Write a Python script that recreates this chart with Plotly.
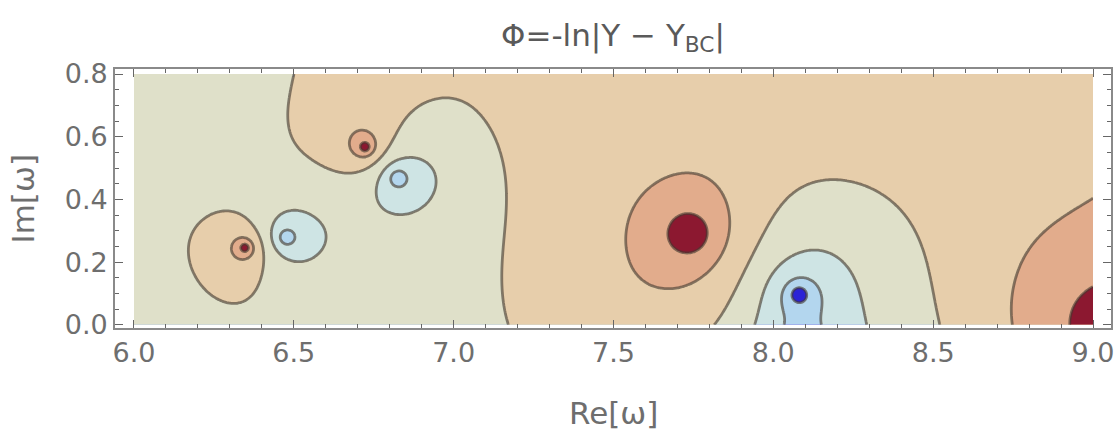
import numpy as np
import plotly.graph_objects as go

# ================= values =================
# zeros of Y - Y_BC  (Phi -> +inf, dark red cores)
zero_re = [6.347, 6.723, 7.738, 9.05]
zero_im = [0.246, 0.567, 0.290, 0.0]
zero_mirror = [0, 0, 0, 0]
zero_core = [0.003, 0.003, 0.0, 0.0]      # finite sampling depth of the peak
# poles of Y - Y_BC  (Phi -> -inf, blue cores)
pole_re = [6.476, 6.825, 8.080]
pole_im = [0.279, 0.469, 0.097]
pole_mirror = [0, 0, 1]
pole_core = [0.012, 0.013, 0.0]

# contour levels and band colours (lowest band first)
levels = [-3, -2, -1, 0, 1, 2]
band_colors = ["#2B22D6", "#B3D6EE", "#CEE4E4", "#DFE0C9",
               "#E7CEAB", "#E2AC8C", "#8C1830"]

# points lying on the drawn contour lines: Re, Im, level
line_re = [6.504, 6.488, 6.520, 6.582, 6.676, 6.790, 6.895, 6.973, 7.103, 7.166, 7.163, 7.160, 7.158, 7.155,
           6.175, 6.420, 6.290, 6.295, 6.373, 6.206, 6.190, 6.384,
           6.318, 6.386, 6.352, 6.352,
           6.425, 6.582, 6.503, 6.503,
           6.448, 6.504, 6.476, 6.476,
           6.757, 6.915, 6.836, 6.836,
           6.795, 6.855, 6.825, 6.825,
           6.679, 6.767, 6.723, 6.723,
           7.676, 7.800, 7.738, 7.738,
           7.536, 7.864, 7.700, 7.700,
           8.060, 8.100, 8.080, 8.080,
           8.083, 8.015, 8.155,
           8.100, 7.939, 8.305,
           7.833, 7.891, 7.987, 8.107, 8.217, 8.348, 8.459, 8.507,
           8.920, 9.000,
           8.750, 9.000, 8.793]
line_im = [0.800, 0.632, 0.558, 0.505, 0.485, 0.579, 0.696, 0.733, 0.632, 0.420, 0.300, 0.200, 0.100, 0.016,
           0.229, 0.207, 0.372, 0.037, 0.101, 0.112, 0.313, 0.324,
           0.241, 0.241, 0.275, 0.207,
           0.283, 0.283, 0.356, 0.209,
           0.279, 0.279, 0.307, 0.251,
           0.442, 0.442, 0.528, 0.356,
           0.469, 0.469, 0.499, 0.439,
           0.567, 0.567, 0.611, 0.523,
           0.290, 0.290, 0.352, 0.228,
           0.300, 0.300, 0.484, 0.122,
           0.097, 0.097, 0.117, 0.077,
           0.163, 0.000, 0.000,
           0.237, 0.000, 0.000,
           0.000, 0.154, 0.335, 0.441, 0.462, 0.420, 0.250, 0.037,
           0.000, 0.110,
           0.000, 0.400, 0.207]
line_lev = [0] * 14 + [0] * 8 + [1] * 4 + [-1] * 4 + [-2] * 4 + [-1] * 4 + [-2] * 4 + \
           [1] * 4 + [2] * 4 + [1] * 4 + [-3] * 4 + [-2] * 3 + [-1] * 3 + [0] * 8 + \
           [2] * 2 + [1] * 3

# points inside plain bands: Re, Im
olive_re = [6.05, 6.05, 6.05, 6.20, 6.30, 6.40, 6.45, 6.62, 6.65, 6.60, 6.75, 6.90,
            6.95, 7.00, 7.02, 7.05, 7.03, 6.95, 6.42, 6.15, 6.30, 6.40, 6.46, 6.22]
olive_im = [0.05, 0.40, 0.75, 0.55, 0.70, 0.50, 0.05, 0.36, 0.08, 0.20, 0.30, 0.20,
            0.05, 0.30, 0.50, 0.08, 0.62, 0.42, 0.60, 0.02, 0.00, 0.02, 0.12, 0.03]
tan_re = [7.30, 7.30, 7.40, 7.45, 7.25, 7.10, 6.62, 6.75, 6.85, 6.58, 6.70, 8.00,
          8.70, 8.62, 7.95, 7.60, 8.95, 8.62, 7.45, 8.35]
tan_im = [0.05, 0.30, 0.55, 0.78, 0.70, 0.78, 0.75, 0.76, 0.74, 0.65, 0.66, 0.72,
          0.72, 0.35, 0.55, 0.02, 0.65, 0.10, 0.45, 0.55]
salmon_re = [7.62, 8.90, 8.93]
salmon_im = [0.20, 0.20, 0.30]
cyan_re = [8.10, 7.98, 8.20]
cyan_im = [0.20, 0.05, 0.10]
lightblue_re = [8.08]
lightblue_im = [0.03]
band_re = olive_re + tan_re + salmon_re + cyan_re + lightblue_re
band_im = olive_im + tan_im + salmon_im + cyan_im + lightblue_im
band_val = ([-0.5] * len(olive_re) + [0.5] * len(tan_re) + [1.5] * len(salmon_re)
            + [-1.5] * len(cyan_re) + [-2.5] * len(lightblue_re))

x_ticks = [6.0, 6.5, 7.0, 7.5, 8.0, 8.5, 9.0]
x_ticktext = ["6.0", "6.5", "7.0", "7.5", "8.0", "8.5", "9.0"]
y_ticks = [0.0, 0.2, 0.4, 0.6, 0.8]
y_ticktext = ["0.0", "0.2", "0.4", "0.6", "0.8"]


# ================= field Phi = -ln|Y - Y_BC| =================
def log_dist(w, p, core):
    return 0.5 * np.log(np.abs(w - p) ** 2 + core ** 2 + 1e-18)


def singular_part(xr, yi):
    w = np.asarray(xr, float) + 1j * np.asarray(yi, float)
    out = np.zeros(w.shape)
    for a_re, a_im, m, e in zip(zero_re, zero_im, zero_mirror, zero_core):
        a = complex(a_re, a_im)
        out -= log_dist(w, a, e)
        if m:
            out -= log_dist(w, a.conjugate(), e)
    for b_re, b_im, m, e in zip(pole_re, pole_im, pole_mirror, pole_core):
        b = complex(b_re, b_im)
        out += log_dist(w, b, e)
        if m:
            out += log_dist(w, b.conjugate(), e)
    return out


rbf_cx, rbf_cy = np.meshgrid(np.arange(6.0, 9.01, 0.25), [0.0, 0.3, 0.6, 0.85])
rbf_cx, rbf_cy = rbf_cx.ravel(), rbf_cy.ravel()
n_free = 4


def smooth_basis(xr, yi):
    xr = np.asarray(xr, float)
    yi = np.asarray(yi, float)
    cols = [np.ones_like(xr), np.tanh((xr - 7.15) / 0.15), (xr - 7.5) / 1.5, (yi - 0.4) / 0.4]
    for cx, cy in zip(rbf_cx, rbf_cy):
        cols.append(np.exp(-0.5 * ((xr - cx) / 0.2) ** 2 - 0.5 * ((yi - cy) / 0.18) ** 2))
    return cols


def design(xr, yi):
    return np.column_stack(smooth_basis(xr, yi))


w_band = 0.35
A = np.vstack([design(line_re, line_im), w_band * design(band_re, band_im)])
rhs = np.concatenate([
    np.asarray(line_lev, float) - singular_part(line_re, line_im),
    w_band * (np.asarray(band_val, float) - singular_part(band_re, band_im))])
ridge = np.full(A.shape[1], 0.03)
ridge[:n_free] = 0.0
coef = np.linalg.solve(A.T @ A + np.diag(ridge), A.T @ rhs)

re = np.linspace(6.0, 9.0, 601)
im = np.linspace(0.0, 0.8, 161)
X, Yg = np.meshgrid(re, im)
phi = singular_part(X, Yg)
for c, basis in zip(coef, smooth_basis(X, Yg)):
    phi = phi + c * basis

n = len(band_colors) - 1
colorscale = [[i / n, c] for i, c in enumerate(band_colors)]

fig = go.Figure(go.Contour(
    x=re, y=im, z=phi,
    autocontour=False,
    contours=dict(start=levels[0], end=levels[-1], size=levels[1] - levels[0],
                  coloring="fill", showlines=True),
    colorscale=colorscale, showscale=False,
    line=dict(color="rgba(68,58,48,0.62)", width=2.8, smoothing=0.8),
    hoverinfo="skip",
))

font_family = "DejaVu Sans"
axis_common = dict(
    showline=True, linecolor="#8a8a8a", linewidth=1.6, mirror="ticks",
    ticks="inside", ticklen=8, tickwidth=1.2, tickcolor="#666",
    showgrid=False, zeroline=False, automargin=False,
    tickfont=dict(family=font_family, size=27, color="#6e6e6e"),
)
fig.update_xaxes(range=[5.9406, 9.0563], tickmode="array", tickvals=x_ticks,
                 ticktext=x_ticktext,
                 minor=dict(tickmode="linear", tick0=6.0, dtick=0.1, ticks="inside",
                            ticklen=4.5, tickwidth=1.1, tickcolor="#666"),
                 **axis_common)
fig.update_yaxes(range=[-0.01, 0.816], tickmode="array", tickvals=y_ticks,
                 ticktext=y_ticktext,
                 minor=dict(tickmode="linear", tick0=0.0, dtick=0.05, ticks="inside",
                            ticklen=4.5, tickwidth=1.1, tickcolor="#666"),
                 **axis_common)

fig.update_layout(
    width=1117, height=440,
    margin=dict(l=115, r=6, t=69, b=112),
    plot_bgcolor="white", paper_bgcolor="white",
    title=dict(text="Φ=-ln|Y − Y<sub>BC</sub>|", x=0.5, xref="paper",
               y=1 - 35 / 440, yref="container", yanchor="middle",
               font=dict(family=font_family, size=31, color="#5a5a5a")),
    annotations=[
        dict(text="Re[ω]", xref="paper", yref="paper", x=0.5, y=-85 / 259,
             yanchor="middle", xanchor="center", showarrow=False,
             font=dict(family=font_family, size=31, color="#6e6e6e")),
        dict(text="Im[ω]", xref="paper", yref="paper", x=-93 / 996, y=0.5,
             textangle=-90, yanchor="middle", xanchor="center", showarrow=False,
             font=dict(family=font_family, size=31, color="#6e6e6e")),
    ],
)

fig.write_html("out.html", config={"displayModeBar": False},
               post_script="document.body.style.margin='0px';")
